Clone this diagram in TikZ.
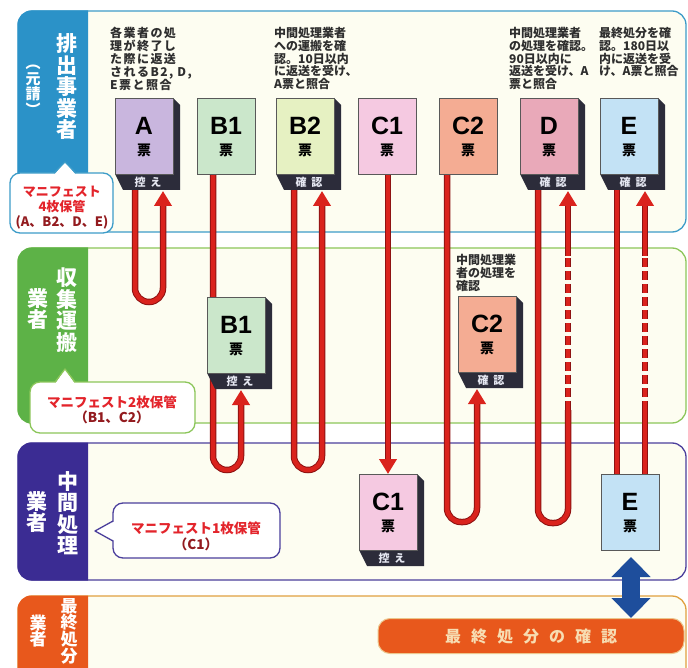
\documentclass[tikz,border=0pt]{standalone}
\usepackage{fontspec}
\setmainfont{Noto Sans CJK JP}
\newfontfamily\lat{Liberation Sans}
\usetikzlibrary{arrows.meta}
\definecolor{cream}{HTML}{FDFDF1}
\definecolor{bandA}{HTML}{2B92C8}
\definecolor{bandAline}{HTML}{3D9CC8}
\definecolor{bandB}{HTML}{5DB247}
\definecolor{bandBline}{HTML}{8CC65A}
\definecolor{bandC}{HTML}{3B2C93}
\definecolor{bandCline}{HTML}{4B3F9C}
\definecolor{bandD}{HTML}{E8581C}
\definecolor{bandDline}{HTML}{E0A040}
\definecolor{linered}{HTML}{DA231D}
\definecolor{linedark}{HTML}{8E1212}
\definecolor{side}{HTML}{2C2C3A}
\definecolor{tA}{HTML}{C9B6DE}
\definecolor{tB1}{HTML}{CBE7CB}
\definecolor{tB2}{HTML}{E6F1C2}
\definecolor{tC1}{HTML}{F5C9E1}
\definecolor{tC2}{HTML}{F4AC93}
\definecolor{tD}{HTML}{E9A9B9}
\definecolor{tE}{HTML}{C3E2F5}
\definecolor{callred}{HTML}{E3242B}
\definecolor{calldark}{HTML}{931B1F}
\definecolor{arrblue}{HTML}{1E4E9C}
\definecolor{notegray}{HTML}{2E2E2E}
\definecolor{finaltext}{HTML}{F7DDB2}
\definecolor{striptxt}{HTML}{E6E8F2}

\tikzset{
 ticketbox/.style={draw=black!65, line width=0.7pt, minimum width=58pt, minimum height=76pt, inner sep=0pt},
 ticketletter/.style={inner sep=0pt, font=\lat\bfseries\fontsize{25}{25}\selectfont},
 ticketmark/.style={inner sep=0pt, font=\bfseries\fontsize{14}{14}\selectfont},
 striptext/.style={text=striptxt, font=\bfseries\fontsize{11}{11}\selectfont, inner sep=0pt},
 note/.style={anchor=north west, align=left, inner sep=0pt, text=notegray, font=\bfseries\fontsize{12}{12.8}\selectfont},
 vlabel/.style={align=center, inner sep=0pt, text=white, font=\bfseries\fontsize{21}{21.5}\selectfont},
 vlabelsmall/.style={align=center, inner sep=0pt, text=white, font=\bfseries\fontsize{15}{15.5}\selectfont},
 vlabeltight/.style={align=center, inner sep=0pt, text=white, font=\bfseries\fontsize{17}{16.6}\selectfont},
 rl/.style={draw=linedark, line width=6.5pt, rounded corners=14pt},
 rc/.style={draw=linered, line width=4.5pt, rounded corners=14pt},
 dsh/.style={dash pattern=on 9pt off 4pt},
 redtip/.style={draw=linered, line width=4.5pt, -{Triangle[width=17pt,length=15pt,fill=linered]}},
 calltext/.style={align=center, inner sep=0pt, text=callred, font=\bfseries\fontsize{13}{15}\selectfont},
 panel/.style={line width=1.3pt, fill=cream, rounded corners=14pt},
}

\newcommand\mkticket[6]{%
  \ifx\relax#6\relax\else
    \fill[side] (#2+29,#3-38) -- (#2+36,#3-31) -- (#2+36,#3+54) -- (#2-21,#3+54) -- (#2-29,#3+38) -- cycle;
  \fi
  \node[ticketbox, fill=#4] (#1) at (#2,#3) {};
  \node[ticketletter] (#1l) at (#2,#3-10) {#5};
  \node[ticketmark] (#1m) at (#2,#3+14) {票};
  \ifx\relax#6\relax\else
    \node[striptext] (#1s) at (#2+4,#3+46) {#6};
  \fi
}

\begin{document}
\begin{tikzpicture}[x=1pt,y=-1pt]
\useasboundingbox (0,0) rectangle (688,668);
\clip (0,0) rectangle (688,668);
\fill[white] (0,0) rectangle (688,668);

% bands
\draw[panel, draw=bandAline] (18,11) rectangle (686,232);
\draw[panel, draw=bandBline] (18,248) rectangle (686,423);
\draw[panel, draw=bandCline] (18,443) rectangle (686,580);
\draw[panel, draw=bandDline] (18,596) rectangle (686,700);
\begin{scope}
  \clip (0,0) rectangle (88,700);
  \fill[bandA, rounded corners=14pt] (17.5,10.5) rectangle (120,232.5);
  \fill[bandB, rounded corners=14pt] (17.5,247.5) rectangle (120,423.5);
  \fill[bandC, rounded corners=14pt] (17.5,442.5) rectangle (120,580.5);
  \fill[bandD, rounded corners=14pt] (17.5,595.5) rectangle (120,700);
\end{scope}

% band labels
\node[vlabel] (lab1) at (67,87) {排\\出\\事\\業\\者};
\node[vlabelsmall] (lab1b) at (33,90) {︵\\元\\請\\︶};
\node[vlabel] (lab2) at (67,310) {収\\集\\運\\搬};
\node[vlabel] (lab2b) at (38,309) {業\\者};
\node[vlabel] (lab3) at (68,513) {中\\間\\処\\理};
\node[vlabel] (lab3b) at (37,512) {業\\者};
\node[vlabeltight] (lab4) at (69,631) {最\\終\\処\\分};
\node[vlabeltight] (lab4b) at (38,631) {業\\者};

% red lines
\foreach \s in {rl,rc}{
  \draw[\s] (135,190) -- (135,302) -- (163,302) -- (163,206);
  \draw[\s] (213,174) -- (213,470) -- (241,470) -- (241,405);
  \draw[\s] (294,190) -- (294,470) -- (322,470) -- (322,206);
  \draw[\s] (388,174) -- (388,459);
  \draw[\s] (447,174) -- (447,522) -- (477,522) -- (477,404);
  \draw[\s] (538,190) -- (538,523) -- (568,523) -- (568,410);
  \draw[\s, dsh] (568,410) -- (568,256);
  \draw[\s] (568,256) -- (568,206);
  \draw[\s] (617,190) -- (617,474);
  \draw[\s] (645,474) -- (645,410);
  \draw[\s, dsh] (645,410) -- (645,256);
  \draw[\s] (645,256) -- (645,206);
}
\draw[redtip] (163,222) -- (163,191);
\draw[redtip] (241,420) -- (241,390);
\draw[redtip] (322,222) -- (322,191);
\draw[redtip] (388,440) -- (388,474);
\draw[redtip] (477,420) -- (477,389);
\draw[redtip] (568,222) -- (568,191);
\draw[redtip] (645,222) -- (645,191);

% tickets
\mkticket{A}{144}{136}{tA}{A}{控\hspace{5pt}え}
\mkticket{B1}{226}{136}{tB1}{B1}{}
\mkticket{B2}{305}{136}{tB2}{B2}{確\hspace{5pt}認}
\mkticket{C1}{387}{136}{tC1}{C1}{}
\mkticket{C2}{468}{136}{tC2}{C2}{}
\mkticket{D}{549}{136}{tD}{D}{確\hspace{5pt}認}
\mkticket{E}{629}{136}{tE}{E}{確\hspace{5pt}認}
\mkticket{B1b}{236}{335}{tB1}{B1}{控\hspace{5pt}え}
\mkticket{C2b}{487}{334}{tC2}{C2}{確\hspace{5pt}認}
\mkticket{C1c}{388}{512}{tC1}{C1}{控\hspace{5pt}え}
\mkticket{Ec}{630}{512}{tE}{E}{}

% notes
\node[note, font=\bfseries\fontsize{12}{12.8}\selectfont\addfontfeature{LetterSpace=12}] (nA) at (110,27) {各業者の処\\理が終了し\\た際に返送\\されるB2, D,\\E票と照合};
\node[note] (nB2) at (274,27) {中間処理業者\\への運搬を確\\認。10日以内\\に返送を受け、\\A票と照合};
\node[note] (nD) at (509,27) {中間処理業者\\の処理を確認。\\90日以内に\\返送を受け、A\\票と照合};
\node[note] (nE) at (599,27) {最終処分を確\\認。180日以\\内に返送を受\\け、A票と照合};
\node[note] (nC2) at (456,254) {中間処理業\\者の処理を\\確認};

% callouts
\draw[draw=bandAline, line width=1.3pt, fill=white, rounded corners=10pt] (10,173) rectangle (113,233);
\fill[white] (54,175) -- (65,162) -- (76,175) -- cycle;
\draw[draw=bandAline, line width=1.3pt, line join=round] (54,173) -- (65,162) -- (76,173);
\node[calltext] (m4) at (62,208) {マニフェスト\\4枚保管\\{\color{calldark}(A、B2、D、E)}};

\draw[draw=bandBline, line width=1.3pt, fill=white, rounded corners=10pt] (30,382) rectangle (195,433);
\fill[white] (55,384) -- (65,369) -- (75,384) -- cycle;
\draw[draw=bandBline, line width=1.3pt, line join=round] (55,382) -- (65,369) -- (75,382);
\node[calltext, font=\bfseries\fontsize{13.5}{15}\selectfont] (m2) at (112,410) {マニフェスト2枚保管\\{\color{calldark}（B1、C2）}};

\draw[draw=bandCline, line width=1.3pt, fill=white, rounded corners=10pt] (113,503) rectangle (280,558);
\fill[white] (115,521) -- (95,531) -- (115,541) -- cycle;
\draw[draw=bandCline, line width=1.3pt, line join=round] (113,521) -- (95,531) -- (113,541);
\node[calltext, font=\bfseries\fontsize{13.5}{16}\selectfont] (m1) at (196,536) {マニフェスト1枚保管\\{\color{calldark}（C1）}};

% final confirmation
\node[draw=bandDline!60!white, line width=1pt, fill=bandD, rounded corners=12pt, minimum width=306pt, minimum height=35pt, text=finaltext, font=\bfseries\fontsize{16}{16}\selectfont] (final) at (531,636) {最\hspace{10pt}終\hspace{10pt}処\hspace{10pt}分\hspace{10pt}の\hspace{10pt}確\hspace{10pt}認};
\coordinate (bu) at (631,557);
\coordinate (bd) at (631,618);
\draw[line width=18pt, arrblue, {Triangle[width=38pt,length=20pt]}-{Triangle[width=38pt,length=20pt]}] (bu) -- (bd);
\end{tikzpicture}
\end{document}
